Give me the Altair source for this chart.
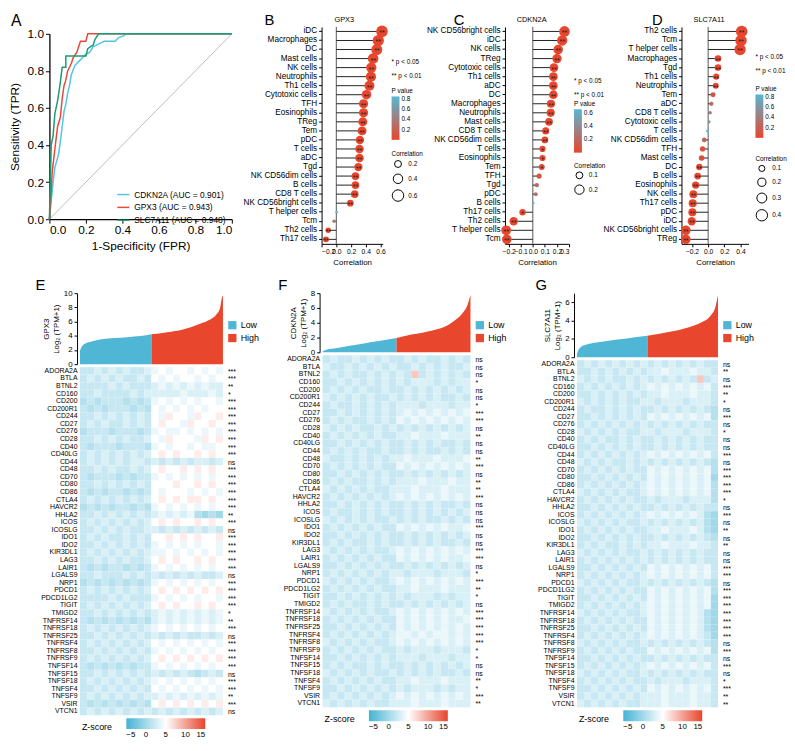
import altair as alt
import pandas as pd

FONT = "Liberation Sans"
RED = "#e8462d"
CYAN = "#4fb6d6"

# ---------------- Panel A: ROC ----------------
A_curves = ["CDKN2A (AUC = 0.901)", "GPX3 (AUC = 0.943)", "SLC7A11 (AUC = 0.948)"]
A_colors = ["#55c3e4", "#e9483b", "#1b9c74"]
A_cdkn2a_fpr = [0, 0.005, 0.01, 0.02, 0.03, 0.05, 0.06, 0.07, 0.08, 0.09, 0.10, 0.11, 0.12, 0.14, 0.16, 0.18, 0.20, 0.22, 0.24, 0.26, 0.28, 0.30, 0.36, 0.38, 0.41, 0.42, 1.0]
A_cdkn2a_tpr = [0, 0.05, 0.10, 0.20, 0.28, 0.35, 0.42, 0.50, 0.58, 0.62, 0.68, 0.72, 0.78, 0.83, 0.85, 0.87, 0.89, 0.90, 0.93, 0.94, 0.95, 0.96, 0.96, 0.98, 0.99, 1.0, 1.0]
A_gpx3_fpr = [0, 0.01, 0.015, 0.03, 0.045, 0.06, 0.07, 0.08, 0.09, 0.10, 0.12, 0.13, 0.15, 0.16, 0.17, 0.20, 0.21, 1.0]
A_gpx3_tpr = [0, 0.15, 0.25, 0.38, 0.50, 0.55, 0.65, 0.72, 0.75, 0.80, 0.84, 0.87, 0.90, 0.93, 0.96, 0.96, 1.0, 1.0]
A_slc_fpr = [0, 0.005, 0.01, 0.02, 0.03, 0.045, 0.06, 0.07, 0.09, 0.09, 0.20, 0.21, 0.24, 0.25, 0.27, 1.0]
A_slc_tpr = [0, 0.20, 0.40, 0.45, 0.57, 0.64, 0.74, 0.82, 0.82, 0.88, 0.88, 0.92, 0.94, 0.97, 1.0, 1.0]

# ---------------- Panels B-D: immune correlation ----------------
B_cells = ["iDC", "Macrophages", "DC", "Mast cells", "NK cells", "Neutrophils", "Th1 cells",
           "Cytotoxic cells", "TFH", "Eosinophils", "TReg", "Tem", "pDC", "T cells", "aDC", "Tgd",
           "NK CD56dim cells", "B cells", "CD8 T cells", "NK CD56bright cells", "T helper cells",
           "Tcm", "Th2 cells", "Th17 cells"]
B_corr = [0.62, 0.57, 0.55, 0.50, 0.475, 0.47, 0.45, 0.41, 0.37, 0.37, 0.36, 0.35, 0.32, 0.315,
          0.315, 0.30, 0.26, 0.26, 0.25, 0.19, 0.005, -0.03, -0.11, -0.14]
B_p = [0.001] * 20 + [0.85, 0.4, 0.001, 0.001]

C_cells = ["NK CD56bright cells", "iDC", "NK cells", "TReg", "Cytotoxic cells", "Th1 cells", "aDC",
           "DC", "Macrophages", "Neutrophils", "Mast cells", "CD8 T cells", "NK CD56dim cells",
           "T cells", "Eosinophils", "Tem", "TFH", "Tgd", "pDC", "B cells", "Th17 cells",
           "Th2 cells", "T helper cells", "Tcm"]
C_corr = [0.262, 0.243, 0.21, 0.20, 0.175, 0.17, 0.17, 0.17, 0.15, 0.148, 0.134, 0.107, 0.10,
          0.08, 0.08, 0.074, 0.052, 0.033, 0.025, 0.003, -0.085, -0.158, -0.22, -0.215]
C_p = [0.001] * 13 + [0.02, 0.02, 0.03, 0.08, 0.2, 0.3, 0.65, 0.02, 0.001, 0.001, 0.001]

D_cells = ["Th2 cells", "Tcm", "T helper cells", "Macrophages", "Tgd", "Th1 cells", "Neutrophils",
           "Tem", "aDC", "CD8 T cells", "Cytotoxic cells", "T cells", "NK CD56dim cells", "TFH",
           "Mast cells", "DC", "B cells", "Eosinophils", "NK cells", "Th17 cells", "pDC", "iDC",
           "NK CD56bright cells", "TReg"]
D_corr = [0.415, 0.407, 0.395, 0.122, 0.122, 0.10, 0.094, 0.061, 0.04, 0.024, 0.012, -0.008,
          -0.049, -0.069, -0.081, -0.11, -0.13, -0.155, -0.183, -0.191, -0.195, -0.203, -0.276, -0.276]
D_p = [0.001] * 7 + [0.1, 0.3, 0.45, 0.62, 0.85, 0.2, 0.07, 0.06] + [0.001] * 9

# ---------------- Panels E-G: checkpoint heatmaps ----------------
GENES = ["ADORA2A", "BTLA", "BTNL2", "CD160", "CD200", "CD200R1", "CD244", "CD27", "CD276", "CD28",
         "CD40", "CD40LG", "CD44", "CD48", "CD70", "CD80", "CD86", "CTLA4", "HAVCR2", "HHLA2",
         "ICOS", "ICOSLG", "IDO1", "IDO2", "KIR3DL1", "LAG3", "LAIR1", "LGALS9", "NRP1", "PDCD1",
         "PDCD1LG2", "TIGIT", "TMIGD2", "TNFRSF14", "TNFRSF18", "TNFRSF25", "TNFRSF4", "TNFRSF8",
         "TNFRSF9", "TNFSF14", "TNFSF15", "TNFSF18", "TNFSF4", "TNFSF9", "VSIR", "VTCN1"]

E_sig = ["***", "***", "**", "*", "***", "***", "***", "***", "***", "***", "***", "***", "ns", "***",
         "***", "***", "***", "***", "***", "**", "***", "ns", "***", "***", "***", "***", "***", "ns",
         "***", "***", "***", "***", "*", "**", "***", "ns", "***", "***", "***", "***", "ns", "***",
         "***", "**", "***", "ns"]
F_sig = ["ns", "ns", "ns", "*", "ns", "ns", "*", "***", "***", "ns", "**", "ns", "ns", "**", "***",
         "ns", "**", "**", "***", "ns", "ns", "ns", "***", "ns", "ns", "***", "***", "ns", "*", "***",
         "**", "*", "ns", "***", "***", "***", "***", "***", "*", "*", "ns", "ns", "**", "*", "***", "**"]
G_sig = ["ns", "**", "ns", "***", "**", "*", "ns", "***", "ns", "*", "ns", "ns", "***", "ns", "***",
         "***", "***", "***", "*", "ns", "***", "ns", "**", "ns", "**", "ns", "ns", "***", "***", "ns",
         "***", "***", "***", "***", "***", "***", "***", "ns", "***", "ns", "***", "ns", "*", "***",
         "**", "**"]

# z-score level codes per gene (10 low-group bins | 10 high-group bins); z = digit - 1
E_heat = ["33434343345656656565", "34343433436565665656", "33334343334545454544", "33433334344444544454",
          "23233323235656565665", "32323332326565656566", "33434343436576657667", "34343343436766576676",
          "23332333235655656565", "33434343346576665767", "32333233325656656556", "34343434346767667676",
          "34343434434343434434", "33434334346766767676", "32333232335656565656", "33434343436667667676",
          "32323323236566656565", "34343434346767677676", "23232332325656565656", "33434343434545452121",
          "34343434346767667676", "33434343344343434343", "34343343436676767667", "33434343435656565665",
          "34343434345565656565", "33434343346767667676", "32323323235656565656", "33433343434343434334",
          "23232323235656565656", "34343434346767676767", "33334343335656565665", "34343434346767667676",
          "33434343434545454545", "32323232324545454545", "34343434345656565656", "33434343434343433434",
          "34343434346565656565", "33434343435656565656", "34343434346767676767", "32323232335656565656",
          "33434343434343432343", "34343434345656565656", "33434343436565656565", "34343434344545454545",
          "32323232326767676767", "34343434343434343434"]
F_heat = ["34334343433434334343", "43343434343343434334", "34343343434393434343", "33434343434344434344",
          "34343433433434343434", "43434343343434343343", "34334343434443444344", "33434343434545454545",
          "34343343435454545454", "43434334343434343434", "34343434334454445444", "33434343433434343343",
          "34343433433434334343", "43343434344544454445", "34343434335454545454", "33434343433434343434",
          "34343343434445444544", "43434343344454445444", "34343434345454545454", "33434343433434343343",
          "34334343433434343434", "43434343343434334343", "34343434335454545445", "33434343433434343434",
          "34343343433434343343", "43434343345454545454", "34343434335454545445", "33434343433434343434",
          "34343434344344434443", "43434343345454545454", "34343434334454445444", "33434343434344434344",
          "34343343433434343434", "43434343345454545454", "34343434335454545445", "33434343435454545454",
          "34343434345545455454", "43434343345454545454", "34343434334344434443", "33434343434443444344",
          "34343343433434343434", "43434343343434343343", "34343434334454445444", "33434343434344434344",
          "34343434345454545454", "43434343344454445444"]
G_heat = ["34343434343434343433", "33434343434454445443", "43434334343434343934", "34343434345454545453",
          "33434343434454445443", "43434343344344434443", "34334343433434343432", "33434343435454545452",
          "34343434343434343433", "43434343344344434443", "34343343433434343433", "33434343433434343433",
          "34343434345454545453", "43434334343434343432", "34343434335454545452", "33434343435454545451",
          "34343434345454545452", "43434343345454545452", "34343434334344434442", "33434343433434343433",
          "34343434345454545421", "43434343343434343421", "34343434334454445421", "33434343433434343432",
          "34343343434454445443", "43434343343434343433", "34343434343434343433", "33434343435454545453",
          "34343434345454545453", "43434343343434343432", "34343434335454545452", "33434343435454545451",
          "34343434345454545451", "43434343345454545421", "34343434335454545421", "33434343435454545421",
          "34343434345454545431", "43434343343434343432", "34343434335454545452", "33434343433434343433",
          "34343434345454545453", "43434343343434343433", "34343434334344434443", "33434343435454545453",
          "34343434344454445443", "43434343344454445443"]

# sorted expression (sample rank fraction -> log2 TPM+1)
E_pos = [0, 0.01, 0.034, 0.08, 0.15, 0.24, 0.33, 0.425, 0.5, 0.61, 0.72, 0.84, 0.91, 0.95, 0.98, 0.995, 1.0]
E_val = [1.9, 2.4, 2.86, 3.2, 3.5, 3.67, 3.8, 3.95, 4.2, 4.5, 4.9, 5.7, 6.3, 6.9, 7.9, 9.5, 9.6]
F_pos = [0, 0.02, 0.1, 0.25, 0.4, 0.5, 0.6, 0.75, 0.85, 0.9, 0.95, 0.98, 1.0]
F_val = [0.1, 0.3, 0.6, 1.1, 1.6, 1.95, 2.4, 3.0, 3.7, 4.4, 5.4, 6.4, 7.8]
G_pos = [0, 0.01, 0.05, 0.2, 0.35, 0.5, 0.65, 0.8, 0.88, 0.95, 0.98, 1.0]
G_val = [0.3, 0.8, 1.3, 1.75, 2.05, 2.35, 2.75, 3.3, 3.8, 4.6, 5.4, 6.8]

Z_DOM = [-5, 5, 15]
Z_RNG = ["#45b3d5", "#ffffff", "#e8442c"]


def label_text(txt, x, y, size, align="left", baseline="top"):
    return alt.Chart(pd.DataFrame({"t": [txt]})).mark_text(
        align=align, baseline=baseline, fontSize=size, font=FONT, color="black"
    ).encode(text="t:N", x=alt.value(x), y=alt.value(y))


def spacer(w, h):
    return alt.Chart(pd.DataFrame({"s": [0]})).mark_point(opacity=0).encode(
        x=alt.value(0), y=alt.value(0)).properties(width=w, height=h)


# ---------- A ----------
rows = []
for name, fx, ty in zip(A_curves, [A_cdkn2a_fpr, A_gpx3_fpr, A_slc_fpr],
                        [A_cdkn2a_tpr, A_gpx3_tpr, A_slc_tpr]):
    for i, (a, b) in enumerate(zip(fx, ty)):
        rows.append({"curve": name, "fpr": a, "tpr": b, "ord": i})
roc_df = pd.DataFrame(rows)

A_TOP, A_H, A_W, ROW_H = 7, 188, 185, 220
ax_x = alt.Axis(values=[0, 0.2, 0.4, 0.6, 0.8, 1.0], format=".1f", title="1-Specificity (FPR)",
                labelFontSize=12, titleFontSize=12, tickSize=4, domainWidth=1.3, labelPadding=2,
                titlePadding=5, offset=-(ROW_H - A_TOP - A_H))
ax_y = alt.Axis(values=[0, 0.2, 0.4, 0.6, 0.8, 1.0], format=".1f", title="Sensitivity (TPR)",
                labelFontSize=12, titleFontSize=12, tickSize=4, domainWidth=1.3, labelPadding=2, titlePadding=6)
sx = alt.Scale(domain=[0, 1], nice=False, zero=False)
sy = alt.Scale(domain=[0, 1], nice=False, zero=False, range=[A_TOP + A_H, A_TOP])

diag = alt.Chart(pd.DataFrame({"fpr": [0, 1], "tpr": [0, 1]})).mark_line(
    color="#bdbdbd", strokeWidth=1).encode(
    x=alt.X("fpr:Q", scale=sx, axis=ax_x), y=alt.Y("tpr:Q", scale=sy, axis=ax_y))
roc = alt.Chart(roc_df).mark_line(strokeWidth=1.5).encode(
    x=alt.X("fpr:Q", scale=sx, axis=ax_x),
    y=alt.Y("tpr:Q", scale=sy, axis=ax_y),
    color=alt.Color("curve:N", scale=alt.Scale(domain=A_curves, range=A_colors),
                    legend=alt.Legend(title=None, orient="none", legendX=68, legendY=A_TOP + 156,
                                      symbolType="stroke", symbolSize=150, symbolStrokeWidth=1.5,
                                      labelFontSize=8.5, rowPadding=1)),
    order="ord:Q")
A = alt.layer(diag, roc, label_text("A", -39, A_TOP - 21, 16)).properties(width=A_W, height=ROW_H)


# ---------- B, C, D ----------
def lollipop(cells, corr, pvals, gene, width, xdom, xticks, pdom, pticks, sdom, srange, sticks,
             leg_x, star_y, pval_y, corr_y, letter, letter_dx, title_x):
    df = pd.DataFrame({"cell": cells, "corr": corr, "p": pvals})
    df["zero"] = 0.0
    df["absr"] = df["corr"].abs()
    df["sig"] = ["**" if p < 0.01 else ("*" if p < 0.05 else "") for p in pvals]
    xs = alt.Scale(domain=xdom, nice=False, zero=False)
    xa = alt.Axis(values=xticks, format=".1f", title="Correlation", labelFontSize=6.8,
                  titleFontSize=8, tickSize=3, labelOverlap=False, titlePadding=3, labelPadding=2)
    Y = alt.Y("cell:N", sort=cells, scale=alt.Scale(paddingInner=0, paddingOuter=0),
              axis=alt.Axis(title=None, labelFontSize=8.3, tickSize=3, labelPadding=2))
    base = alt.Chart(df)
    zero = alt.Chart(pd.DataFrame({"corr": [0.0]})).mark_rule(color="#555555", strokeWidth=1).encode(
        x=alt.X("corr:Q", scale=xs, axis=xa))
    sticks_l = base.mark_rule(color="#222222", strokeWidth=1).encode(
        x=alt.X("zero:Q", scale=xs, axis=xa), x2="corr:Q", y=Y)
    dots = base.mark_circle(opacity=1).encode(
        x=alt.X("corr:Q", scale=xs, axis=xa), y=Y,
        color=alt.Color("p:Q", scale=alt.Scale(domain=pdom, range=[RED, "#56b7d3"], interpolate="rgb"),
                        legend=alt.Legend(title="P value", orient="none", legendX=leg_x, legendY=pval_y,
                                          values=pticks, format=".1f", gradientLength=44,
                                          gradientThickness=8, labelFontSize=6.5, titleFontSize=6.5,
                                          titleFontWeight="normal", direction="vertical", titlePadding=2)),
        size=alt.Size("absr:Q", scale=alt.Scale(domain=sdom, range=srange),
                      legend=alt.Legend(title="Correlation", orient="none", legendX=leg_x, legendY=corr_y,
                                        values=sticks, format=".1f", symbolFillColor="white",
                                        symbolStrokeColor="black", symbolStrokeWidth=1,
                                        symbolType="circle", labelFontSize=6.5, titleFontSize=6.5,
                                        titleFontWeight="normal", titlePadding=2, rowPadding=1)))
    stars = base.mark_text(fontSize=7, dy=2, color="#222222", font=FONT).encode(
        x=alt.X("corr:Q", scale=xs, axis=xa), y=Y, text="sig:N")
    return alt.layer(
        zero, sticks_l, dots, stars,
        label_text("* p < 0.05", leg_x, star_y, 6.5),
        label_text("** p < 0.01", leg_x, star_y + 14, 6.5),
        label_text(letter, letter_dx, -14, 15),
        label_text(gene, title_x, -7, 7.5, align="center", baseline="middle"),
    ).properties(width=width, height=ROW_H)


B = lollipop(B_cells, B_corr, B_p, "GPX3", 62, [-0.2, 0.63], [-0.2, 0, 0.2, 0.4, 0.6],
             [0, 0.85], [0.2, 0.4, 0.6, 0.8], [0, 0.62], [6, 140], [0.2, 0.4, 0.6],
             71, 33, 62, 126, "B", -58, 23)
C = lollipop(C_cells, C_corr, C_p, "CDKN2A", 65, [-0.23, 0.3], [-0.2, -0.1, 0, 0.1, 0.2, 0.3],
             [0, 0.65], [0.2, 0.4, 0.6], [0, 0.27], [6, 120], [0.1, 0.2],
             70, 52, 75, 138, "C", -52, 27)
D = lollipop(D_cells, D_corr, D_p, "SLC7A11", 68, [-0.33, 0.5], [-0.2, 0, 0.2, 0.4],
             [0, 0.85], [0.2, 0.4, 0.6, 0.8], [0, 0.42], [6, 140], [0.1, 0.2, 0.3, 0.4],
             75, 28, 60, 131, "D", -30, 28)


# ---------- E, F, G (sorted expression + heatmap stacked in one cell) ----------
def expr_panel(gene, pos, vals, ymax, yticks, heat_rows, sigs, cell_w, x0, x1, h_area, gap, h_heat,
               letter, letter_dx):
    recs = [{"pos": p, "val": v, "grp": "Low"} for p, v in zip(pos, vals) if p <= 0.5]
    recs += [{"pos": p, "val": v, "grp": "High"} for p, v in zip(pos, vals) if p >= 0.5]
    area_df = pd.DataFrame(recs)
    area = alt.Chart(area_df).mark_area(interpolate="monotone").encode(
        x=alt.X("pos:Q", scale=alt.Scale(domain=[0, 1], nice=False, zero=False, range=[x0, x1]), axis=None),
        y=alt.Y("val:Q", stack=None, scale=alt.Scale(domain=[0, ymax], nice=False, range=[h_area, 0]),
                axis=alt.Axis(values=yticks, title=[gene, "Log₂ (TPM+1)"], titleFontSize=8, orient="left",
                              labelFontSize=8, tickSize=3, offset=3 - x0, titlePadding=3, labelPadding=2)),
        color=alt.Color("grp:N", scale=alt.Scale(domain=["Low", "High"], range=[CYAN, RED]),
                        legend=alt.Legend(title=None, orient="none", legendX=x1 + 5, legendY=28,
                                          symbolType="square", symbolSize=70, labelFontSize=9,
                                          symbolStrokeWidth=0, rowPadding=3)))
    top = alt.layer(area, label_text(letter, letter_dx, -15, 15))

    hrecs = []
    for g, s in zip(GENES, heat_rows):
        for i, ch in enumerate(s):
            hrecs.append({"gene": g, "bin": i, "z": int(ch) - 1})
    heat_df = pd.DataFrame(hrecs)
    y0 = h_area + gap
    y1 = y0 + h_heat
    Yg = alt.Y("gene:N", sort=GENES, scale=alt.Scale(paddingInner=0, paddingOuter=0, range=[y0, y1]),
               axis=alt.Axis(title=None, labelFontSize=7, ticks=False, domain=False, labelPadding=3,
                             orient="left", offset=-x0))
    rect = alt.Chart(heat_df).mark_rect().encode(
        x=alt.X("bin:O", axis=None, scale=alt.Scale(paddingInner=0, paddingOuter=0, range=[x0, x1])),
        y=Yg,
        color=alt.Color("z:Q", scale=alt.Scale(domain=Z_DOM, range=Z_RNG, interpolate="rgb"),
                        legend=alt.Legend(title=None, orient="none", legendX=x0 + 47, legendY=y1 + 3,
                                          direction="horizontal", gradientLength=80,
                                          gradientThickness=11, values=[-5, 0, 5, 10, 15],
                                          labelFontSize=8, format="d")))
    sig = alt.Chart(pd.DataFrame({"gene": GENES, "sig": sigs})).mark_text(
        align="left", fontSize=7, dy=1, font=FONT, color="black").encode(
        y=Yg, x=alt.value(x1 + 5), text="sig:N")
    heat = alt.layer(rect, sig, label_text("Z-score", x0 + 2, y1 + 12, 9, baseline="middle"))
    return alt.layer(top, heat).resolve_scale(
        x="independent", y="independent", color="independent"
    ).properties(width=cell_w, height=y1)


E = expr_panel("GPX3", E_pos, E_val, 10, [0, 2, 4, 6, 8, 10], E_heat, E_sig, 185, 31, 176, 72, 3, 353, "E", -14)
F = expr_panel("CDKN2A", F_pos, F_val, 8, [0, 2, 4, 6, 8], F_heat, F_sig, 62, 1, 151, 60, 3, 357, "F", -44)
G = expr_panel("SLC7A11", G_pos, G_val, 7, [0, 2, 4, 6], G_heat, G_sig, 65, 73, 216, 65, 3, 352, "G", 31)

# grid: 3 rows x 7 columns (aligned, flush); spacer cells set the gaps
row0 = [A, spacer(91, 1), B, spacer(124, 1), C, spacer(114, 1), D]
row1 = [spacer(1, 50) for _ in range(7)]
row2 = [E, spacer(1, 1), F, spacer(1, 1), G, spacer(1, 1), spacer(1, 1)]

chart = alt.concat(*(row0 + row1 + row2), columns=7, spacing=0, bounds="flush").resolve_scale(
    color="independent", size="independent"
).properties(
    padding=0
).configure_view(stroke=None).configure_axis(
    labelFont=FONT, titleFont=FONT, labelColor="black", titleColor="black",
    domainColor="black", tickColor="black", titleFontWeight="normal", grid=False
).configure_legend(
    labelFont=FONT, titleFont=FONT, labelColor="black", titleColor="black"
).configure_text(font=FONT)

chart.save("out.html", embed_options={"renderer": "svg", "actions": False})
